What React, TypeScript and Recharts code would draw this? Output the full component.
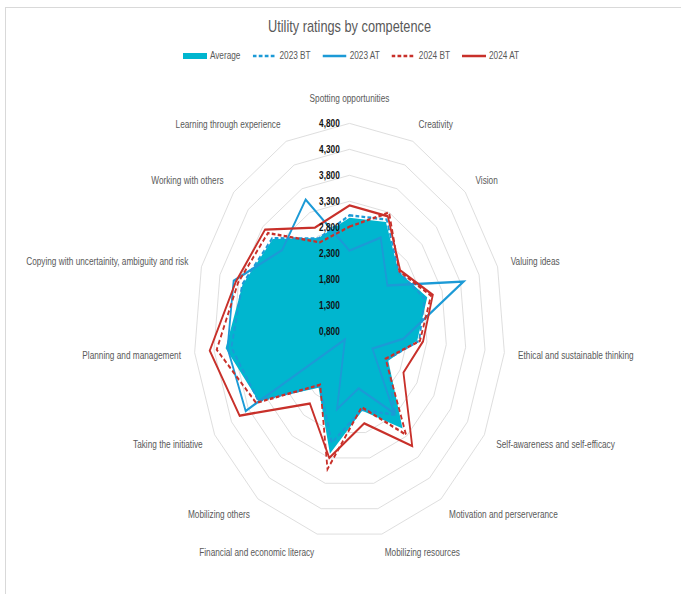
import React from "react";
import {
  Legend,
  PolarAngleAxis,
  PolarGrid,
  PolarRadiusAxis,
  Radar,
  RadarChart,
} from "recharts";

const competences = [
  "Spotting opportunities",
  "Creativity",
  "Vision",
  "Valuing ideas",
  "Ethical and sustainable thinking",
  "Self-awareness and self-efficacy",
  "Motivation and perserverance",
  "Mobilizing resources",
  "Financial and economic literacy",
  "Mobilizing others",
  "Taking the initiative",
  "Planning and management",
  "Copying with uncertainity, ambiguity and risk",
  "Working with others",
  "Learning through experience",
];

const average = [2.98, 3.1, 2.5, 2.9, 2.55, 1.95, 3.12, 2.37, 3.22, 2.15, 3.5, 4.0, 3.69, 3.45, 2.76];
const bt2023 = [3.03, 3.15, 2.5, 2.83, 2.6, 1.9, 2.8, 2.35, 3.0, 2.1, 3.5, 3.85, 3.7, 3.47, 2.75];
const at2023 = [2.35, 2.77, 2.11, 3.88, 2.2, 1.48, 2.76, 1.93, 2.34, 1.0, 3.88, 3.95, 3.93, 3.13, 3.57];
const bt2024 = [2.81, 3.3, 2.52, 3.0, 2.62, 1.87, 3.27, 2.3, 3.52, 2.08, 3.57, 4.23, 3.81, 3.62, 2.67];
const at2024 = [3.22, 3.22, 2.55, 3.05, 2.7, 2.4, 3.54, 2.62, 3.3, 2.53, 4.06, 4.41, 3.87, 3.72, 2.98];

const radiusTicks = [0.8, 1.3, 1.8, 2.3, 2.8, 3.3, 3.8, 4.3, 4.8];

const data = competences.map((name, i) => ({
  name,
  average: average[i],
  bt2023: bt2023[i],
  at2023: at2023[i],
  bt2024: bt2024[i],
  at2024: at2024[i],
}));

const BLUE = "#1C9AD6";
const RED = "#C8302A";
const TEAL = "#00B6CF";

const SERIES = [
  { key: "average", name: "Average", color: TEAL, dash: undefined, area: true },
  { key: "bt2023", name: "2023 BT", color: BLUE, dash: "5 3", area: false },
  { key: "at2023", name: "2023 AT", color: BLUE, dash: undefined, area: false },
  { key: "bt2024", name: "2024 BT", color: RED, dash: "5 3", area: false },
  { key: "at2024", name: "2024 AT", color: RED, dash: undefined, area: false },
];

// source picture is squashed sideways, so draw wide and squeeze
const SQUEEZE = 0.75;
const W = 908;
const H = 594;
const CX = 466;
const CY = 331;
const FONT = "'Liberation Sans', Arial, sans-serif";

function AngleTick(props: any) {
  const { x, y, textAnchor, payload } = props;
  const dy = textAnchor === "middle" ? (y < CY ? -7 : 7) : 0;
  return (
    <text
      x={x}
      y={y + dy}
      textAnchor={textAnchor}
      dominantBaseline="central"
      fontSize={11}
      fill="#595959"
      fontFamily={FONT}
    >
      {payload.value}
    </text>
  );
}

function RadiusTick(props: any) {
  const { x, y, payload } = props;
  return (
    <text
      x={x - 13}
      y={y}
      textAnchor="end"
      dominantBaseline="central"
      fontSize={11}
      fontWeight="bold"
      fill="#111"
      fontFamily={FONT}
    >
      {Number(payload.value).toFixed(3).replace(".", ",")}
    </text>
  );
}

function LegendRow({ payload }: any) {
  const shown = SERIES.filter((s) =>
    (payload ?? []).some((p: any) => p.dataKey === s.key)
  );
  return (
    <div
      style={{
        display: "flex",
        justifyContent: "center",
        alignItems: "center",
        gap: 16,
        fontFamily: FONT,
      }}
    >
      {shown.map((s) => (
        <div key={s.key} style={{ display: "flex", alignItems: "center" }}>
          <svg width={32} height={8}>
            {s.area ? (
              <rect x={0} y={1} width={32} height={6} fill={s.color} />
            ) : (
              <line
                x1={0}
                y1={4}
                x2={32}
                y2={4}
                stroke={s.color}
                strokeWidth={2.5}
                strokeDasharray={s.dash}
              />
            )}
          </svg>
          <span style={{ marginLeft: 4, fontSize: 11, color: "#595959", lineHeight: "13px" }}>
            {s.name}
          </span>
        </div>
      ))}
    </div>
  );
}

export default function App() {
  return (
    <div
      style={{
        position: "absolute",
        left: 0,
        top: 0,
        width: 681,
        height: 594,
        overflow: "hidden",
        background: "#fff",
        fontFamily: FONT,
      }}
    >
      <div
        style={{
          position: "absolute",
          left: 5,
          top: 7,
          width: 720,
          height: 640,
          border: "1px solid #d9d9d9",
        }}
      />
      <div
        style={{
          position: "absolute",
          left: 0,
          top: 0,
          width: W,
          height: H,
          transform: `scaleX(${SQUEEZE})`,
          transformOrigin: "0 0",
        }}
      >
        <div
          style={{
            position: "absolute",
            left: 0,
            top: 17,
            width: CX * 2,
            textAlign: "center",
            fontSize: 17,
            lineHeight: "20px",
            color: "#595959",
          }}
        >
          Utility ratings by competence
        </div>
        <RadarChart
          width={W}
          height={H}
          data={data}
          cx={CX}
          cy={CY}
          outerRadius={218}
          margin={{ top: 0, right: 0, bottom: 0, left: 0 }}
        >
          <PolarGrid gridType="polygon" radialLines={false} stroke="#d9d9d9" />
          <PolarAngleAxis
            dataKey="name"
            tick={<AngleTick />}
            tickLine={false}
            axisLine={false}
            tickSize={8}
          />
          {SERIES.map((s) =>
            s.area ? (
              <Radar
                key={s.key}
                name={s.name}
                dataKey={s.key}
                fill={s.color}
                fillOpacity={1}
                stroke="none"
                dot={false}
                isAnimationActive={false}
              />
            ) : (
              <Radar
                key={s.key}
                name={s.name}
                dataKey={s.key}
                fill="none"
                fillOpacity={0}
                stroke={s.color}
                strokeWidth={2.4}
                strokeDasharray={s.dash}
                dot={false}
                isAnimationActive={false}
              />
            )
          )}
          <PolarRadiusAxis
            angle={90}
            type="number"
            domain={[0.8, 4.8]}
            ticks={radiusTicks as any}
            tickCount={9}
            axisLine={false}
            tickLine={false}
            tick={<RadiusTick />}
          />
          <Legend
            verticalAlign="top"
            content={<LegendRow />}
            wrapperStyle={{ top: 49, left: 14, width: W }}
          />
        </RadarChart>
      </div>
    </div>
  );
}
